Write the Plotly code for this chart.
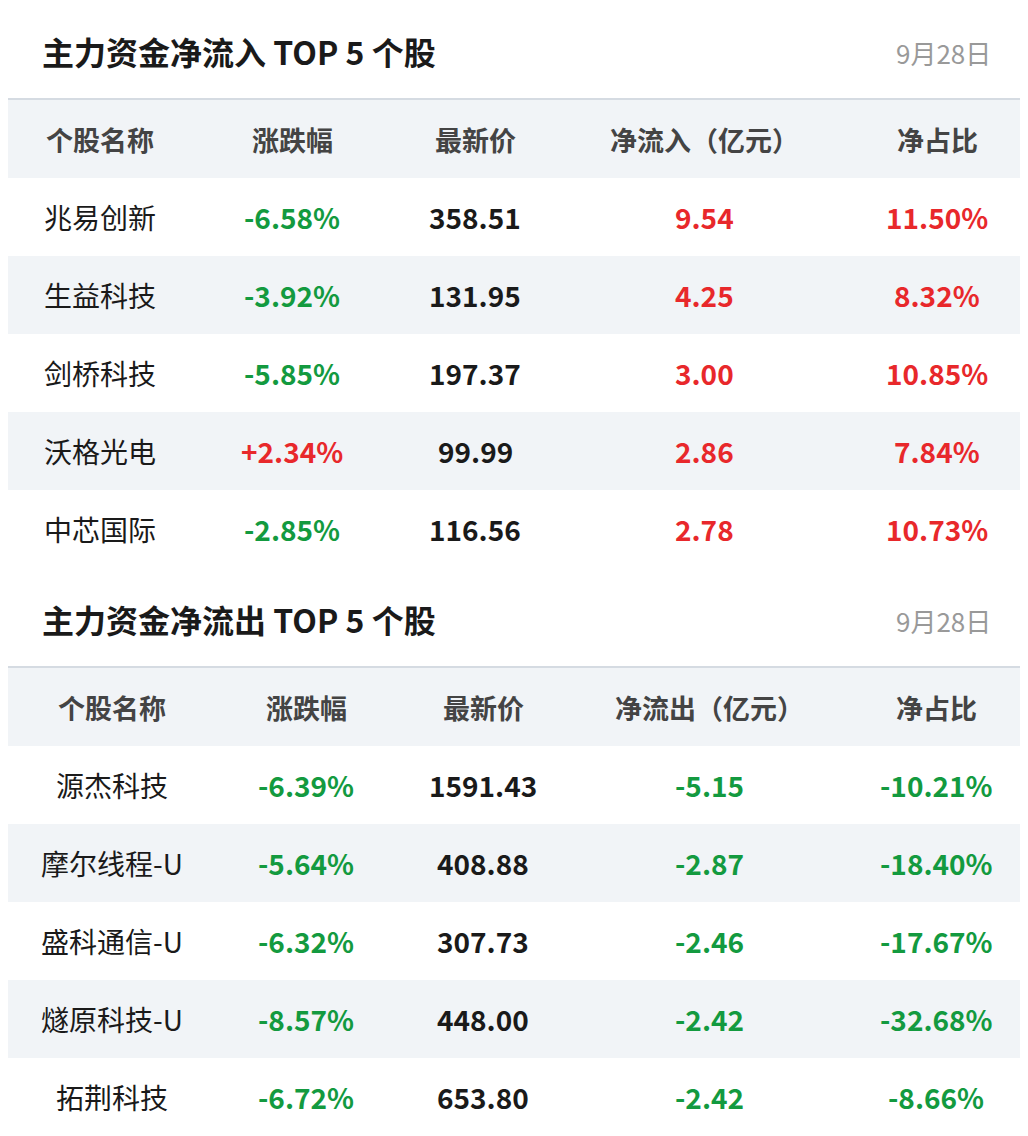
import plotly.graph_objects as go

# data
inflow_names = ['兆易创新', '生益科技', '剑桥科技', '沃格光电', '中芯国际']
inflow_chg = ['-6.58%', '-3.92%', '-5.85%', '+2.34%', '-2.85%']
inflow_price = ['358.51', '131.95', '197.37', '99.99', '116.56']
inflow_amt = ['9.54', '4.25', '3.00', '2.86', '2.78']
inflow_ratio = ['11.50%', '8.32%', '10.85%', '7.84%', '10.73%']

outflow_names = ['源杰科技', '摩尔线程-U', '盛科通信-U', '燧原科技-U', '拓荆科技']
outflow_chg = ['-6.39%', '-5.64%', '-6.32%', '-8.57%', '-6.72%']
outflow_price = ['1591.43', '408.88', '307.73', '448.00', '653.80']
outflow_amt = ['-5.15', '-2.87', '-2.46', '-2.42', '-2.42']
outflow_ratio = ['-10.21%', '-18.40%', '-17.67%', '-32.68%', '-8.66%']

W, H = 1028, 1136
OFF = 8  # page body margin
RED = '#e8282b'
GREEN = '#139a3f'
DARK = '#1a1a1a'
FONT = 'Noto Sans CJK SC'

fig = go.Figure()
shapes = []
ann = []


def color_of(s):
    return GREEN if s.startswith('-') else RED


def section(top, title, amt_label, cols, names, chg, price, amt, ratio):
    ann.append(dict(x=40, y=top + 51, text='<b>' + title + '</b>', xanchor='left',
                    font=dict(size=32, color=DARK)))
    ann.append(dict(x=993, y=top + 52, text='9月28日', xanchor='right',
                    font=dict(size=26, color='#999999')))
    shapes.append(dict(type='line', x0=8, x1=W, y0=top + 99, y1=top + 99,
                       line=dict(color='#d5dbe2', width=2)))
    row_h = 78
    hy = top + 100
    shapes.append(dict(type='rect', x0=8, x1=W, y0=hy, y1=hy + row_h,
                       fillcolor='#f1f4f7', line_width=0, layer='below'))
    headers = ['个股名称', '涨跌幅', '最新价', amt_label, '净占比']
    for cx, h in zip(cols, headers):
        ann.append(dict(x=cx, y=hy + row_h / 2, text='<b>' + h + '</b>',
                        font=dict(size=27, color='#444444')))
    for i in range(len(names)):
        y0 = hy + row_h * (i + 1)
        if i % 2 == 1:
            shapes.append(dict(type='rect', x0=8, x1=W, y0=y0, y1=y0 + row_h,
                               fillcolor='#f1f4f7', line_width=0, layer='below'))
        yc = y0 + row_h / 2
        ann.append(dict(x=cols[0], y=yc, text=names[i], font=dict(size=28, color=DARK)))
        ann.append(dict(x=cols[1], y=yc, text='<b>' + chg[i] + '</b>',
                        font=dict(size=28, color=color_of(chg[i]))))
        ann.append(dict(x=cols[2], y=yc, text='<b>' + price[i] + '</b>',
                        font=dict(size=28, color=DARK)))
        ann.append(dict(x=cols[3], y=yc, text='<b>' + amt[i] + '</b>',
                        font=dict(size=28, color=color_of(amt[i]))))
        ann.append(dict(x=cols[4], y=yc, text='<b>' + ratio[i] + '</b>',
                        font=dict(size=28, color=color_of(ratio[i]))))


section(0, '主力资金净流入 TOP 5 个股', '净流入（亿元）', [100, 292, 475, 704, 937],
        inflow_names, inflow_chg, inflow_price, inflow_amt, inflow_ratio)
section(568, '主力资金净流出 TOP 5 个股', '净流出（亿元）', [112, 306, 483, 709, 936],
        outflow_names, outflow_chg, outflow_price, outflow_amt, outflow_ratio)

# red left accent bar
shapes.append(dict(type='rect', x0=-OFF, x1=8, y0=-OFF, y1=H, fillcolor=RED, line_width=0))

for a in ann:
    a.update(xref='x', yref='y', showarrow=False, yanchor='middle')
    a.setdefault('xanchor', 'center')

fig.update_layout(
    width=W, height=H,
    margin=dict(l=0, r=0, t=0, b=0),
    paper_bgcolor='white', plot_bgcolor='white',
    font=dict(family=FONT),
    shapes=shapes, annotations=ann, showlegend=False,
    xaxis=dict(range=[OFF, W + OFF], visible=False, fixedrange=True),
    yaxis=dict(range=[H + OFF, OFF], visible=False, fixedrange=True),
)

fig.write_html('out.html')
